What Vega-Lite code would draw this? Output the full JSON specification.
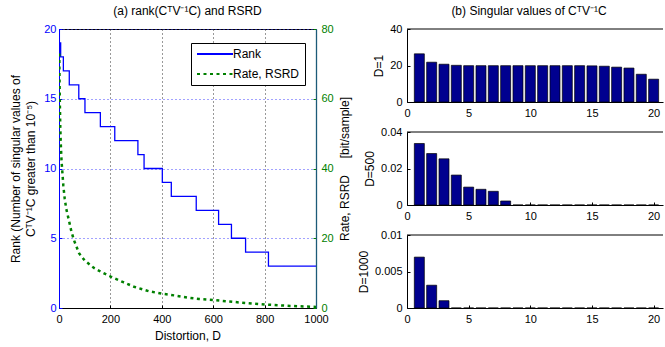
{
  "$schema": "https://vega.github.io/schema/vega-lite/v6.json",
  "padding": {"left": 9, "top": 4, "right": 0, "bottom": 0},
  "background": "white",
  "config": {
    "font": "Liberation Sans",
    "view": {"stroke": "black", "strokeWidth": 1},
    "title": {"fontSize": 12, "fontWeight": "normal", "color": "black", "frame": "group", "offset": 5, "font": "Liberation Sans"},
    "axis": {"labelFontSize": 11, "titleFontSize": 12, "titleFontWeight": "normal", "labelColor": "black", "titleColor": "black", "domainColor": "black", "tickColor": "black", "tickSize": -3, "labelPadding": 8, "grid": false, "labelFont": "Liberation Sans", "titleFont": "Liberation Sans", "format": "~r", "labelFlush": false, "labelOverlap": false, "labelBound": false}
  },
  "datasets": {
    "rank": [
      {"D": 0, "rank": 20}, {"D": 1.5, "rank": 19}, {"D": 6.5, "rank": 18}, {"D": 17, "rank": 17},
      {"D": 40, "rank": 16}, {"D": 77, "rank": 15}, {"D": 101, "rank": 14}, {"D": 161, "rank": 13},
      {"D": 217, "rank": 12}, {"D": 307, "rank": 11}, {"D": 331, "rank": 10}, {"D": 402, "rank": 9},
      {"D": 437, "rank": 8}, {"D": 534, "rank": 7}, {"D": 621, "rank": 6}, {"D": 671, "rank": 5},
      {"D": 726, "rank": 4}, {"D": 815, "rank": 3}, {"D": 1000, "rank": 3}
    ],
    "rate": [
      {"D": 1, "rate": 73}, {"D": 2, "rate": 66}, {"D": 3, "rate": 60}, {"D": 5, "rate": 52},
      {"D": 7, "rate": 47}, {"D": 10, "rate": 42}, {"D": 13, "rate": 39}, {"D": 17, "rate": 35},
      {"D": 22, "rate": 31.5}, {"D": 28, "rate": 28.5}, {"D": 39, "rate": 25}, {"D": 48, "rate": 22},
      {"D": 58, "rate": 19.5}, {"D": 78, "rate": 15.7}, {"D": 100, "rate": 13.6}, {"D": 136, "rate": 11.5},
      {"D": 170, "rate": 10.1}, {"D": 201, "rate": 9}, {"D": 250, "rate": 7.4}, {"D": 292, "rate": 6.1},
      {"D": 350, "rate": 4.8}, {"D": 400, "rate": 4.1}, {"D": 450, "rate": 3.6}, {"D": 500, "rate": 3.0},
      {"D": 545, "rate": 2.6}, {"D": 600, "rate": 2.3}, {"D": 700, "rate": 1.6}, {"D": 804, "rate": 1.0},
      {"D": 900, "rate": 0.6}, {"D": 1000, "rate": 0.3}
    ],
    "sv1": [
      {"i": 1, "v": 26.4}, {"i": 2, "v": 21.8}, {"i": 3, "v": 20.7}, {"i": 4, "v": 20.1}, {"i": 5, "v": 19.9},
      {"i": 6, "v": 19.9}, {"i": 7, "v": 19.9}, {"i": 8, "v": 19.9}, {"i": 9, "v": 19.9}, {"i": 10, "v": 19.9},
      {"i": 11, "v": 19.9}, {"i": 12, "v": 19.9}, {"i": 13, "v": 19.9}, {"i": 14, "v": 19.9}, {"i": 15, "v": 19.8},
      {"i": 16, "v": 19.6}, {"i": 17, "v": 19.1}, {"i": 18, "v": 18.6}, {"i": 19, "v": 15.2}, {"i": 20, "v": 12.5}
    ],
    "sv500": [
      {"i": 1, "v": 0.0337}, {"i": 2, "v": 0.0282}, {"i": 3, "v": 0.0253}, {"i": 4, "v": 0.0164}, {"i": 5, "v": 0.0098},
      {"i": 6, "v": 0.0086}, {"i": 7, "v": 0.0075}, {"i": 8, "v": 0.0022}, {"i": 9, "v": 0}, {"i": 10, "v": 0},
      {"i": 11, "v": 0}, {"i": 12, "v": 0}, {"i": 13, "v": 0}, {"i": 14, "v": 0}, {"i": 15, "v": 0},
      {"i": 16, "v": 0}, {"i": 17, "v": 0}, {"i": 18, "v": 0}, {"i": 19, "v": 0}, {"i": 20, "v": 0}
    ],
    "sv1000": [
      {"i": 1, "v": 0.00697}, {"i": 2, "v": 0.00312}, {"i": 3, "v": 0.0010}, {"i": 4, "v": 0}, {"i": 5, "v": 0},
      {"i": 6, "v": 0}, {"i": 7, "v": 0}, {"i": 8, "v": 0}, {"i": 9, "v": 0}, {"i": 10, "v": 0},
      {"i": 11, "v": 0}, {"i": 12, "v": 0}, {"i": 13, "v": 0}, {"i": 14, "v": 0}, {"i": 15, "v": 0},
      {"i": 16, "v": 0}, {"i": 17, "v": 0}, {"i": 18, "v": 0}, {"i": 19, "v": 0}, {"i": 20, "v": 0}
    ]
  },
  "bounds": "flush",
  "spacing": 91,
  "hconcat": [
    {
      "width": 257,
      "height": 279,
      "title": {"text": "(a) rank(CᵀV⁻¹C) and RSRD"},
      "layer": [
        {
          "data": {"name": "rank"},
          "mark": {"type": "line", "interpolate": "step-after", "strokeWidth": 1.3, "clip": true},
          "encoding": {
            "x": {"field": "D", "type": "quantitative", "scale": {"domain": [0, 1000], "nice": false},
              "axis": {"values": [0, 200, 400, 600, 800, 1000], "title": "Distortion, D", "grid": true, "gridDash": [1, 3], "gridColor": "#333333", "titlePadding": 6}},
            "y": {"field": "rank", "type": "quantitative", "scale": {"domain": [0, 20], "nice": false},
              "axis": {"values": [0, 5, 10, 15, 20], "grid": true, "gridDash": [1, 3], "gridColor": "#4444ff", "labelColor": "#0000ff", "domainColor": "#0000ff", "tickColor": "#0000ff", "labelPadding": 6,
                "title": ["Rank (Number of singular values of", "CᵀV⁻¹C greater than 10⁻⁵)"], "titleLineHeight": 15, "titlePadding": 6}},
            "color": {"datum": "Rank", "type": "nominal", "scale": {"domain": ["Rank", "Rate, RSRD"], "range": ["#0000ff", "#008000"]},
              "legend": {"orient": "none", "legendX": 132, "legendY": 14, "title": null, "strokeColor": "black", "fillColor": "white", "padding": 5, "labelFontSize": 12, "labelColor": "black", "symbolType": "M-1,0H6.2", "symbolSize": 100, "symbolStrokeWidth": 2, "labelOffset": 25, "rowPadding": 8, "cornerRadius": 0}},
            "strokeDash": {"datum": "Rank", "type": "nominal", "scale": {"domain": ["Rank", "Rate, RSRD"], "range": [[1, 0], [3, 3.5]]}}
          }
        },
        {
          "data": {"name": "rate"},
          "mark": {"type": "line", "strokeWidth": 2.5, "clip": true},
          "encoding": {
            "x": {"field": "D", "type": "quantitative"},
            "y": {"field": "rate", "type": "quantitative", "scale": {"domain": [0, 80], "nice": false},
              "axis": {"orient": "right", "values": [0, 20, 40, 60, 80], "labelColor": "#008000", "tickColor": "#008000", "domainColor": "#1c5a78", "domainWidth": 1.3, "labelPadding": 8,
                "title": "Rate, RSRD\u00a0\u00a0\u00a0\u00a0\u00a0[bit/sample]", "titleAngle": 270, "titleBaseline": "top", "titlePadding": 6}},
            "color": {"datum": "Rate, RSRD", "type": "nominal"},
            "strokeDash": {"datum": "Rate, RSRD", "type": "nominal"}
          }
        }
      ],
      "resolve": {"scale": {"y": "independent"}}
    },
    {
      "bounds": "flush",
      "spacing": 30,
      "vconcat": [
        {
          "width": 256,
          "height": 73,
          "title": {"text": "(b) Singular values of CᵀV⁻¹C", "dx": -6},
          "view": {"stroke": null},
          "layer": [
            {
              "data": {"name": "sv1"},
              "mark": {"type": "bar", "size": 10, "fill": "#00008f", "stroke": "black", "strokeWidth": 0.7},
              "encoding": {
                "x": {"field": "i", "type": "quantitative", "scale": {"domain": [0, 20.76], "nice": false, "padding": 0}, "axis": {"values": [0, 5, 10, 15, 20], "title": null}},
                "y": {"field": "v", "type": "quantitative", "scale": {"domain": [0, 40], "nice": false}, "axis": {"values": [0, 20, 40], "title": "D=1", "titlePadding": 4}}
              }
            },
            {"data": {"values": [{}]}, "mark": {"type": "rule", "color": "black"}, "encoding": {"y": {"datum": 40, "type": "quantitative", "axis": {"values": [0, 20, 40], "title": "D=1", "titlePadding": 4}}}}
          ]
        },
        {
          "width": 256,
          "height": 73,
          "view": {"stroke": null},
          "layer": [
            {
              "data": {"name": "sv500"},
              "mark": {"type": "bar", "size": 10, "fill": "#00008f", "stroke": "black", "strokeWidth": 0.7},
              "encoding": {
                "x": {"field": "i", "type": "quantitative", "scale": {"domain": [0, 20.76], "nice": false, "padding": 0}, "axis": {"values": [0, 5, 10, 15, 20], "title": null}},
                "y": {"field": "v", "type": "quantitative", "scale": {"domain": [0, 0.04], "nice": false}, "axis": {"values": [0, 0.02, 0.04], "title": "D=500", "titlePadding": 4}}
              }
            },
            {"data": {"values": [{}]}, "mark": {"type": "rule", "color": "black"}, "encoding": {"y": {"datum": 0.04, "type": "quantitative", "axis": {"values": [0, 0.02, 0.04], "title": "D=500", "titlePadding": 4}}}}
          ]
        },
        {
          "width": 256,
          "height": 73,
          "view": {"stroke": null},
          "layer": [
            {
              "data": {"name": "sv1000"},
              "mark": {"type": "bar", "size": 10, "fill": "#00008f", "stroke": "black", "strokeWidth": 0.7},
              "encoding": {
                "x": {"field": "i", "type": "quantitative", "scale": {"domain": [0, 20.76], "nice": false, "padding": 0}, "axis": {"values": [0, 5, 10, 15, 20], "title": null}},
                "y": {"field": "v", "type": "quantitative", "scale": {"domain": [0, 0.01], "nice": false}, "axis": {"values": [0, 0.005, 0.01], "title": "D=1000", "titlePadding": 4}}
              }
            },
            {"data": {"values": [{}]}, "mark": {"type": "rule", "color": "black"}, "encoding": {"y": {"datum": 0.01, "type": "quantitative", "axis": {"values": [0, 0.005, 0.01], "title": "D=1000", "titlePadding": 4}}}}
          ]
        }
      ]
    }
  ]
}
